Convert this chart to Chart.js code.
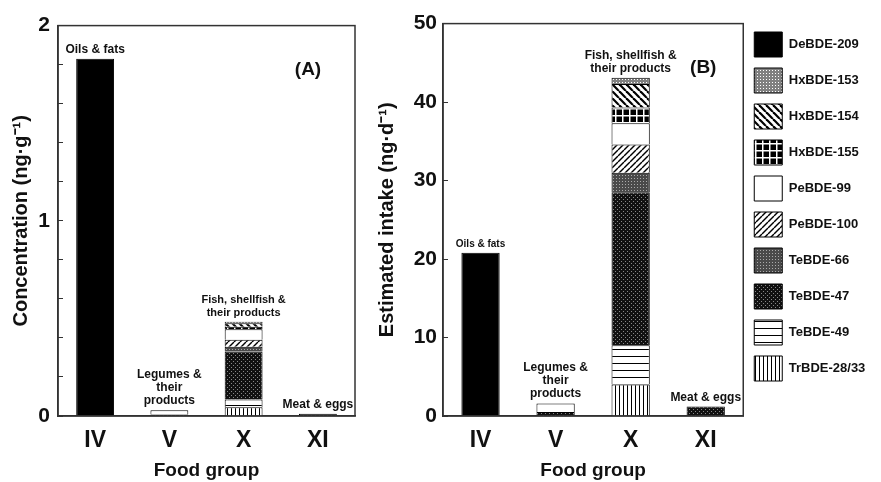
<!DOCTYPE html>
<html>
<head>
<meta charset="utf-8">
<script src="https://cdn.jsdelivr.net/npm/chart.js@4.4.1/dist/chart.umd.min.js"></script>
<style>
  html, body { margin: 0; padding: 0; background: #fff; }
  #wrap { position: relative; width: 881px; height: 482px; overflow: hidden; }
  #chartA { position: absolute; left: 0; top: 0; }
  #chartB { position: absolute; left: 360px; top: 0; }
</style>
</head>
<body>
<div id="wrap">
  <canvas id="chartA" width="370" height="482"></canvas>
  <canvas id="chartB" width="521" height="482"></canvas>
</div>
<script>
// food groups on the x axis and the notes printed above each bar
const groups = ["IV", "V", "X", "XI"];
const groupNotes = [
  ["Oils & fats"],
  ["Legumes &", "their", "products"],
  ["Fish, shellfish &", "their products"],
  ["Meat & eggs"]
];

// congeners, bottom of the stack first
const congeners = ["TrBDE-28/33", "TeBDE-49", "TeBDE-47", "TeBDE-66", "PeBDE-100",
                   "PeBDE-99", "HxBDE-155", "HxBDE-154", "HxBDE-153", "DeBDE-209"];

// (A) concentration, ng/g
const concTr2833 = [null, null, 0.045, null];
const concTe49   = [null, null, 0.040, null];
const concTe47   = [null, 0.008, 0.245, 0.012];
const concTe66   = [null, null, 0.025, null];
const concPe100  = [null, null, 0.035, null];
const concPe99   = [null, 0.022, 0.055, null];
const concHx155  = [null, null, 0.012, null];
const concHx154  = [null, null, 0.018, null];
const concHx153  = [null, null, 0.008, null];
const concDe209  = [1.83, null, null, null];

// (B) estimated intake, ng/d
const intakeTr2833 = [null, null, 4.0, null];
const intakeTe49   = [null, null, 5.0, null];
const intakeTe47   = [null, 0.5, 19.5, 1.2];
const intakeTe66   = [null, null, 2.5, null];
const intakePe100  = [null, null, 3.6, null];
const intakePe99   = [null, 1.1, 2.7, null];
const intakeHx155  = [null, null, 2.0, null];
const intakeHx154  = [null, null, 3.0, null];
const intakeHx153  = [null, null, 0.8, null];
const intakeDe209  = [20.8, null, null, null];

const FONT = "'Liberation Sans', Arial, Helvetica, sans-serif";
const INK = "#111";

function tile(size, draw) {
  const c = document.createElement("canvas");
  c.width = size; c.height = size;
  const g = c.getContext("2d");
  draw(g, size);
  return g.createPattern(c, "repeat");
}

function dots(bg, fg, size, pts) {
  return tile(size, (g, s) => {
    g.fillStyle = bg; g.fillRect(0, 0, s, s);
    g.fillStyle = fg;
    pts.forEach(p => g.fillRect(p[0], p[1], 1, 1));
  });
}

function diag(size, width, back) {
  return tile(size, (g, s) => {
    g.fillStyle = "#fff"; g.fillRect(0, 0, s, s);
    g.strokeStyle = "#000"; g.lineWidth = width;
    for (let k = -1; k <= 1; k++) {
      g.beginPath();
      if (back) { g.moveTo(k * s, 0); g.lineTo(k * s + s, s); }
      else { g.moveTo(k * s, s); g.lineTo(k * s + s, 0); }
      g.stroke();
    }
  });
}

const fills = {
  "TrBDE-28/33": tile(4, (g, s) => { g.fillStyle = "#fff"; g.fillRect(0, 0, s, s); g.fillStyle = "#000"; g.fillRect(3, 0, 1, s); }),
  "TeBDE-49": tile(7, (g, s) => { g.fillStyle = "#fff"; g.fillRect(0, 0, s, s); g.fillStyle = "#000"; g.fillRect(0, 6, s, 1); }),
  "TeBDE-47": dots("#111", "#888", 4, [[1, 1], [3, 3]]),
  "TeBDE-66": dots("#4a4a4a", "#aaa", 3, [[1, 1]]),
  "PeBDE-100": diag(6, 1.4, false),
  "PeBDE-99": "#fff",
  "HxBDE-155": tile(7, (g, s) => { g.fillStyle = "#000"; g.fillRect(0, 0, s, s); g.fillStyle = "#fff"; g.fillRect(3, 0, 1.5, s); g.fillRect(0, 3, s, 1.5); }),
  "HxBDE-154": diag(7, 2.2, true),
  "HxBDE-153": dots("#808080", "#fff", 3, [[1, 1]]),
  "DeBDE-209": "#000"
};

function makeDatasets(series) {
  return congeners.map((name, i) => ({
    label: name,
    data: series[i],
    backgroundColor: fills[name],
    borderColor: "#000",
    borderWidth: 1,
    barPercentage: 0.51,
    categoryPercentage: 1
  }));
}

const frame = {
  id: "frame",
  afterDatasetsDraw(chart) {
    const { ctx, chartArea: a } = chart;
    ctx.save();
    ctx.strokeStyle = "#333";
    ctx.lineWidth = 1.5;
    ctx.strokeRect(a.left, a.top, a.right - a.left, a.bottom - a.top);
    ctx.restore();
  }
};

const notes = {
  id: "notes",
  afterDatasetsDraw(chart, args, opts) {
    const { ctx, chartArea: a, scales: { x, y } } = chart;
    ctx.save();
    ctx.fillStyle = INK;
    ctx.textAlign = "center";
    ctx.textBaseline = "alphabetic";
    groups.forEach((g, i) => {
      const total = chart.data.datasets.reduce((s, d) => s + (d.data[i] || 0), 0);
      const lines = groupNotes[i];
      const base = y.getPixelForValue(total) - 6;
      ctx.font = "bold " + opts.noteSizes[i] + "px " + FONT;
      lines.forEach((ln, k) => {
        ctx.fillText(ln, x.getPixelForValue(i), base - (lines.length - 1 - k) * 13);
      });
    });
    ctx.font = "bold 19px " + FONT;
    ctx.textBaseline = "middle";
    ctx.fillText(opts.panel, a.right - opts.dx, a.top + 44);
    ctx.restore();
  }
};

function makeChart(id, series, yMax, yStep, yTitle, panel, opts) {
  return new Chart(document.getElementById(id), {
    type: "bar",
    data: { labels: groups, datasets: makeDatasets(series) },
    plugins: [frame, notes],
    options: {
      responsive: false,
      animation: false,
      layout: { padding: { top: 21, right: opts.padRight, left: 0, bottom: 0 } },
      plugins: {
        tooltip: { enabled: false },
        notes: { panel: panel, dx: opts.panelDx, noteSizes: opts.noteSizes },
        legend: {
          display: opts.legend,
          position: "right",
          align: "start",
          reverse: true,
          onClick: null,
          labels: {
            boxWidth: 28,
            boxHeight: 25,
            padding: 11,
            color: INK,
            font: { family: FONT, size: 13, weight: "bold" }
          }
        }
      },
      scales: {
        x: {
          stacked: true,
          grid: { display: false, drawTicks: false },
          border: { color: "#333", width: 1.5 },
          ticks: { color: INK, padding: 11, font: { family: FONT, size: 23, weight: "bold" } },
          title: {
            display: true, text: "Food group", color: INK,
            padding: { top: 0, bottom: 0 },
            font: { family: FONT, size: 19, weight: "bold" }
          },
          afterFit(scale) { scale.height = 66; }
        },
        y: {
          stacked: true,
          min: 0,
          max: yMax,
          grid: { drawOnChartArea: false, tickLength: -5, color: "#333", lineWidth: 1 },
          border: { color: "#333", width: 1.5 },
          ticks: {
            stepSize: yStep,
            autoSkip: false,
            color: INK,
            padding: opts.tickPad,
            font: { family: FONT, size: 21, weight: "bold" },
            callback: v => Math.abs(v - Math.round(v / opts.labelStep) * opts.labelStep) < 1e-6 ? String(Math.round(v)) : ""
          },
          title: {
            display: true, text: yTitle, color: INK,
            padding: { top: opts.titlePad, bottom: 0 },
            font: { family: FONT, size: 20, weight: "bold" }
          },
          afterFit(scale) { scale.width = opts.axisWidth; }
        }
      }
    }
  });
}

makeChart("chartA",
  [concTr2833, concTe49, concTe47, concTe66, concPe100, concPe99, concHx155, concHx154, concHx153, concDe209],
  2, 0.2, "Concentration (ng\u00b7g\u207b\u00b9)", "(A)",
  { padRight: 15, panelDx: 47, legend: false, tickPad: 13, titlePad: 9, axisWidth: 58, labelStep: 1,
    noteSizes: [12, 12, 11, 12] });

makeChart("chartB",
  [intakeTr2833, intakeTe49, intakeTe47, intakeTe66, intakePe100, intakePe99, intakeHx155, intakeHx154, intakeHx153, intakeDe209],
  50, 10, "Estimated intake (ng\u00b7d\u207b\u00b9)", "(B)",
  { padRight: 10, panelDx: 40, legend: true, tickPad: 11, titlePad: 15, axisWidth: 83, labelStep: 10,
    noteSizes: [10, 12, 12, 12] });
</script>
</body>
</html>
